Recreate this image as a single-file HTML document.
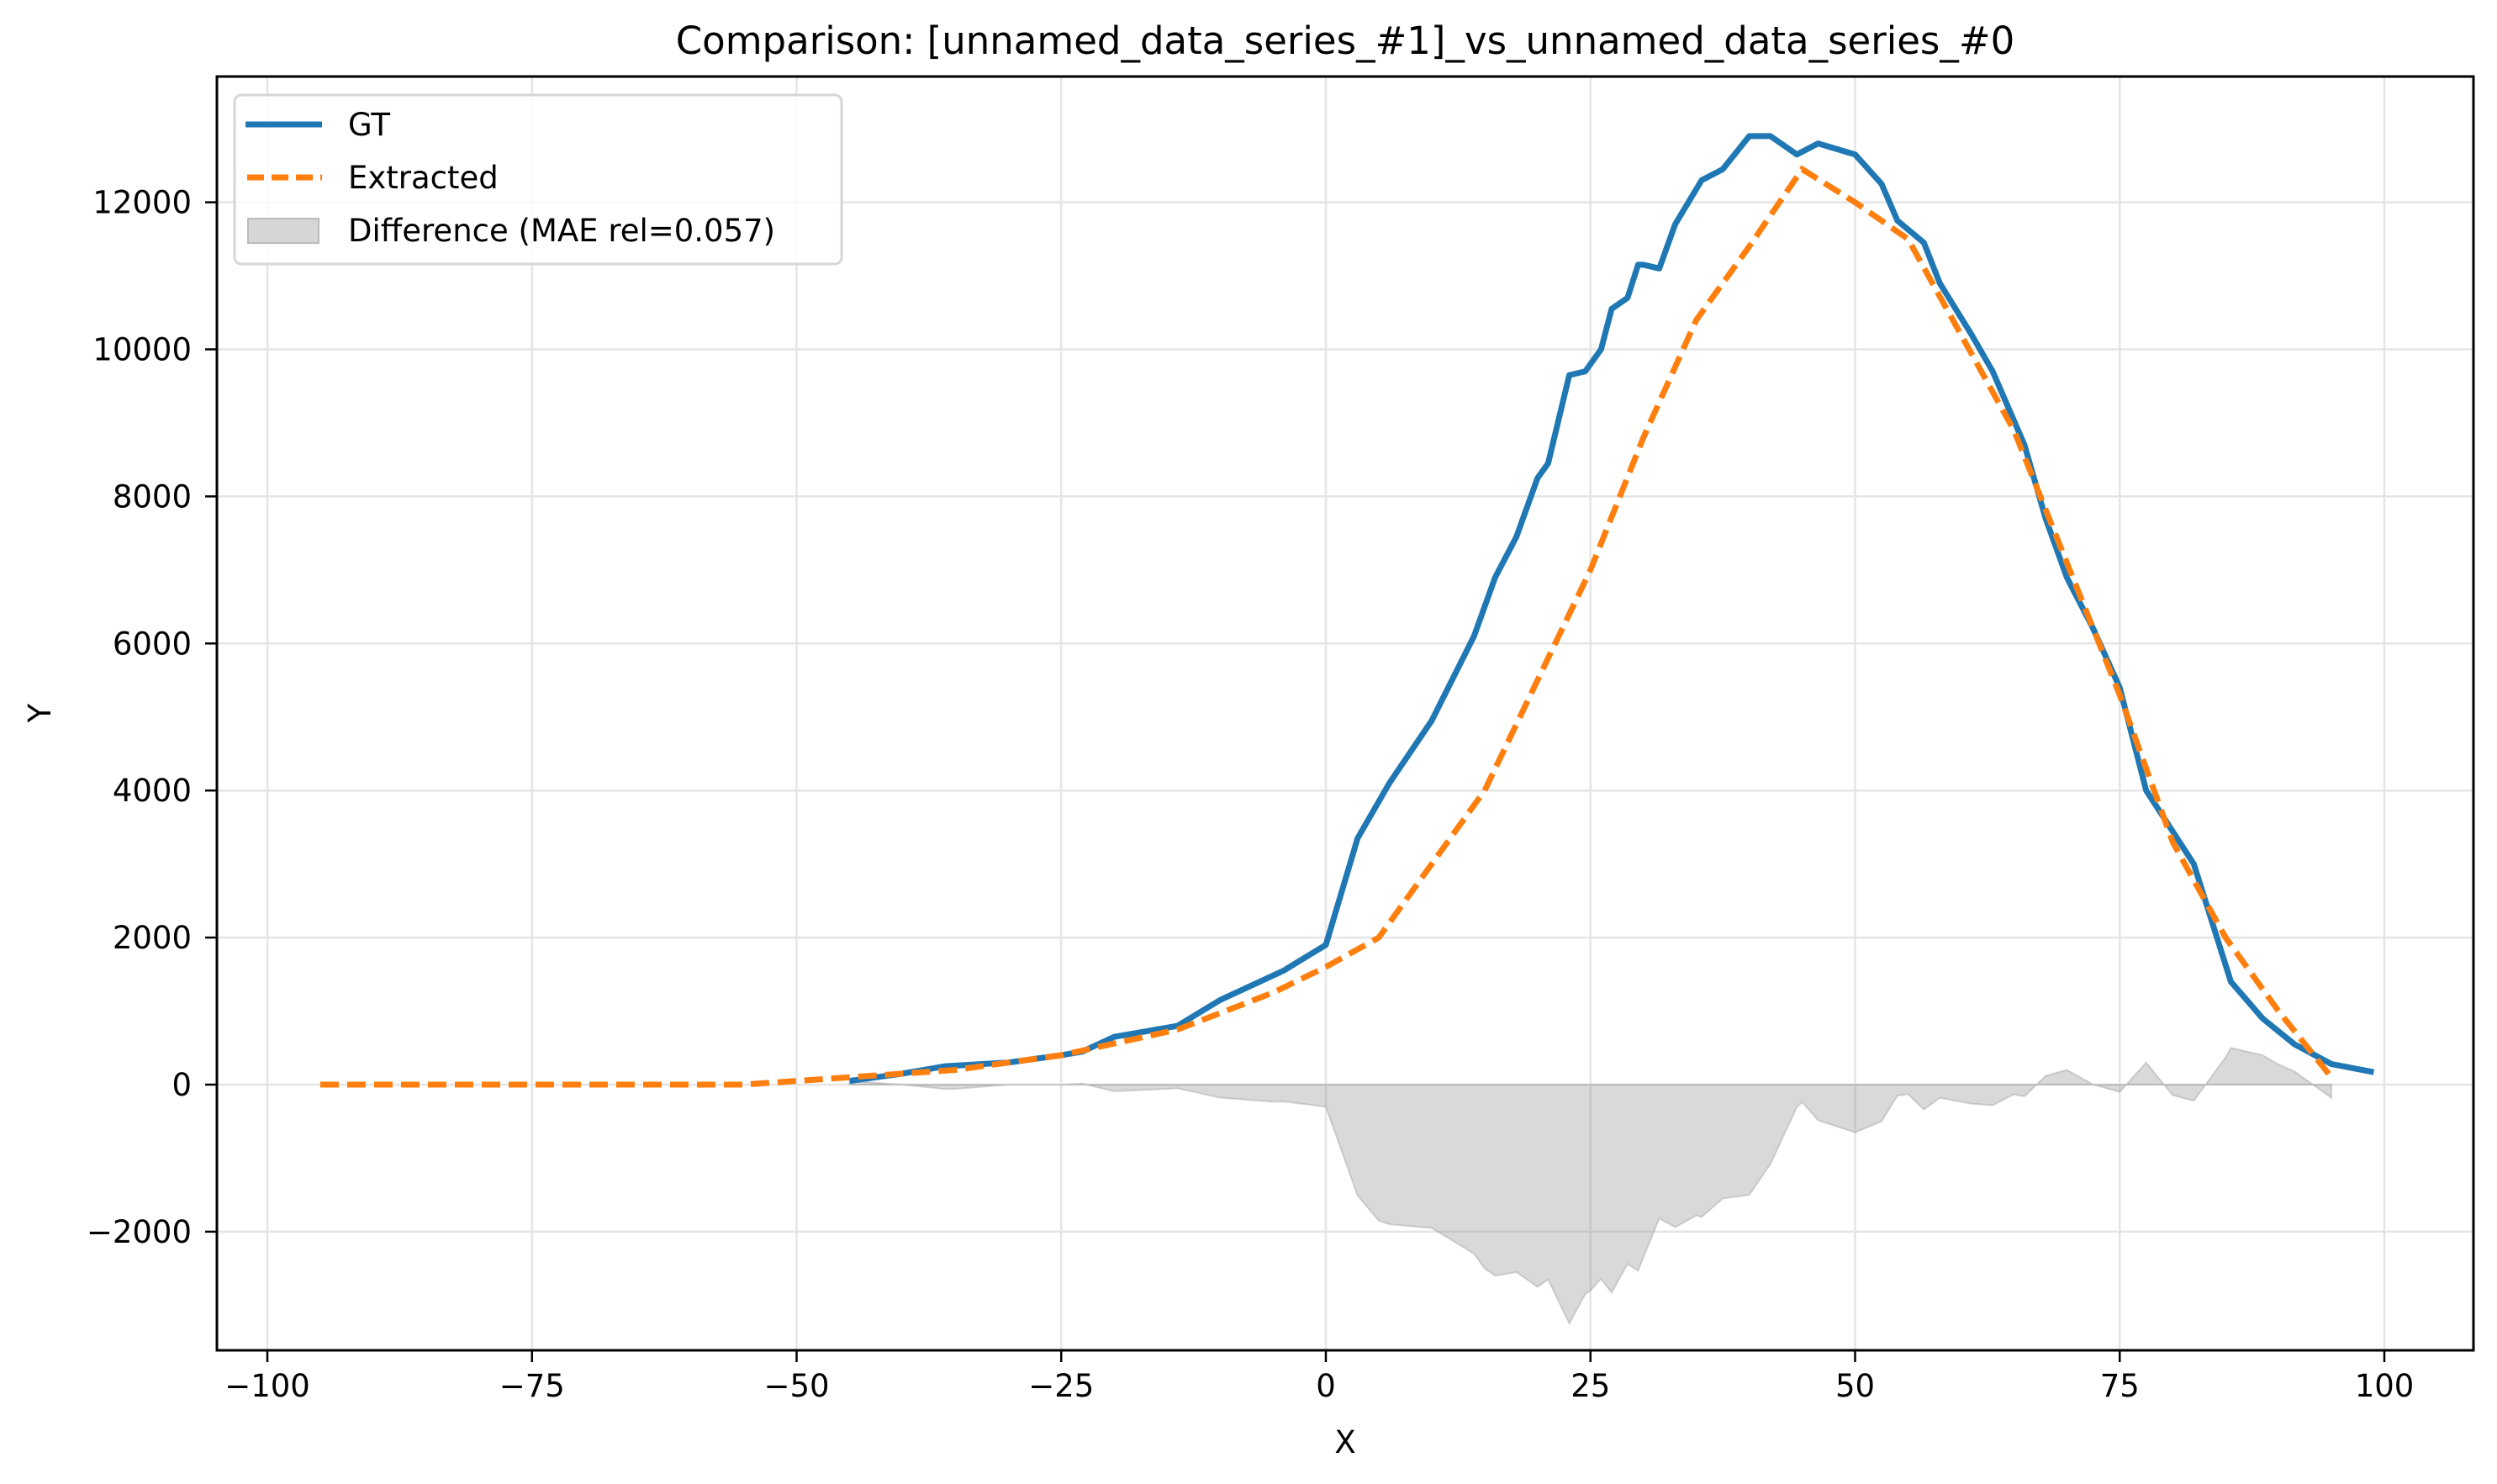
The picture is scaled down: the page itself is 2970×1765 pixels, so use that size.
<!DOCTYPE html>
<html><head><meta charset="utf-8"><style>
html,body{margin:0;padding:0;background:#fff;}
svg{display:block;font-family:"DejaVu Sans","Liberation Sans",sans-serif;}
</style></head><body>
<svg id="chart" width="2970" height="1765" viewBox="0 0 2970 1765" xmlns="http://www.w3.org/2000/svg">
<rect width="2970" height="1765" fill="#fff"/>
<g id="grid"></g>
<g id="marks"></g>
<g id="axes"></g>
<text x="1600" y="64" font-size="45" text-anchor="middle">Comparison: [unnamed_data_series_#1]_vs_unnamed_data_series_#0</text>
<text x="1600" y="1728" font-size="37" text-anchor="middle">X</text>
<text x="60" y="848" font-size="37" text-anchor="middle" transform="rotate(-90 60 848)">Y</text>
<g>
<rect x="279" y="113" width="722" height="201" rx="8" fill="#fff" fill-opacity="0.8" stroke="#d6d6d6" stroke-width="3"/>
<line x1="292" y1="148" x2="383" y2="148" stroke="#1f77b4" stroke-width="7"/>
<text x="414" y="161" font-size="37">GT</text>
<line x1="294" y1="211" x2="383" y2="211" stroke="#ff7f0e" stroke-width="7" stroke-dasharray="20,9"/>
<text x="414" y="224" font-size="37">Extracted</text>
<rect x="295" y="260" width="84" height="29" fill="#d6d6d6" stroke="#bbb" stroke-width="2"/>
<text x="414" y="287" font-size="37">Difference (MAE rel=0.057)</text>
</g>
</svg>
<script>
const gtX=[-45,-40,-36,-30,-25,-23,-20,-14,-10,-4,0,3,6,10,14,16,18,20,21,23,24.5,26,27,28.5,29.5,30,31.5,33,35.5,37.5,40,42,44.5,46.5,50,52.5,54,56.5,58,61,63,66,68,70,72.5,75,77.5,82,85.5,88.5,91.5,95,99];
const gtY=[50,150,250,300,400,450,650,800,1150,1550,1900,3350,4100,4950,6100,6900,7450,8250,8450,9650,9700,10000,10550,10700,11150,11150,11100,11700,12300,12450,12900,12900,12650,12800,12650,12250,11750,11450,10900,10200,9700,8700,7700,6900,6200,5400,4000,3000,1400,900,550,280,170];
const exX=[-95,-55,-45,-35,-25,-14,-5,0,5,10,15,20,25,30,35,40,45,50,55,60,65,70,75,80,85,90,95];
const exY=[0,0,100,200,400,750,1250,1600,2000,3000,4000,5500,7000,8800,10400,11400,12450,12000,11500,10200,8900,7100,5300,3300,2000,1000,100];
const xTicks=[-100,-75,-50,-25,0,25,50,75,100];
const yTicks=[-2000,0,2000,4000,6000,8000,10000,12000];
const NS="http://www.w3.org/2000/svg";
const L=258,R=2942,T=91,B=1606;
function sx(x){return 318+(x+100)*12.59;}
function sy(y){return 1290-y*0.08745;}
function mk(tag,attrs,parent){const e=document.createElementNS(NS,tag);for(const k in attrs)e.setAttribute(k,attrs[k]);parent.appendChild(e);return e;}
const grid=document.getElementById('grid'),marks=document.getElementById('marks'),axes=document.getElementById('axes');
xTicks.forEach(t=>{
 const g=mk('line',{x1:sx(t),x2:sx(t),y1:T,y2:B,stroke:'#e5e5e5','stroke-width':2.5},grid);
 
 
 const tk=mk('line',{x1:sx(t),x2:sx(t),y1:B,y2:B+14,stroke:'#000','stroke-width':2.5},axes);
 
 
 const tx=mk('text',{x:sx(t),y:B+55,'font-size':37,'text-anchor':'middle'},axes);
 tx.textContent=(t<0?'\u2212'+(-t):String(t));
 
 
});
yTicks.forEach(t=>{
 const g=mk('line',{x1:L,x2:R,y1:sy(t),y2:sy(t),stroke:'#e5e5e5','stroke-width':2.5},grid);
 
 
 const tk=mk('line',{x1:L-14,x2:L,y1:sy(t),y2:sy(t),stroke:'#000','stroke-width':2.5},axes);
 
 
 const tx=mk('text',{x:L-30,y:sy(t)+13,'font-size':37,'text-anchor':'end'},axes);
 tx.textContent=(t<0?'\u2212'+(-t):String(t));
 
 
});
function interp(xs,ys,x){if(x<=xs[0])return ys[0];for(let i=1;i<xs.length;i++){if(x<=xs[i]){const f=(x-xs[i-1])/(xs[i]-xs[i-1]);return ys[i-1]+f*(ys[i]-ys[i-1]);}}return ys[ys.length-1];}
const lo=Math.max(gtX[0],exX[0]),hi=Math.min(gtX[gtX.length-1],exX[exX.length-1]);
const dxs=[...new Set([...gtX,...exX].filter(x=>x>=lo&&x<=hi))].sort((a,b)=>a-b);
let d='M'+sx(dxs[0])+','+sy(0);
dxs.forEach(x=>{d+=' L'+sx(x)+','+sy(interp(exX,exY,x)-interp(gtX,gtY,x));});
d+=' L'+sx(dxs[dxs.length-1])+','+sy(0)+' Z';
const fill=mk('path',{d:d,fill:'#808080','fill-opacity':0.3,stroke:'#808080','stroke-opacity':0.3,'stroke-width':2},marks);


const gp=mk('polyline',{points:gtX.map((x,i)=>sx(x)+','+sy(gtY[i])).join(' '),fill:'none',stroke:'#1f77b4','stroke-width':7,'stroke-linejoin':'round'},marks);


const ep=mk('polyline',{points:exX.map((x,i)=>sx(x)+','+sy(exY[i])).join(' '),fill:'none',stroke:'#ff7f0e','stroke-width':7,'stroke-dasharray':'22,10'},marks);


const fr=mk('rect',{x:L,y:T,width:R-L,height:B-T,fill:'none',stroke:'#000','stroke-width':3},axes);


</script>
</body></html>
